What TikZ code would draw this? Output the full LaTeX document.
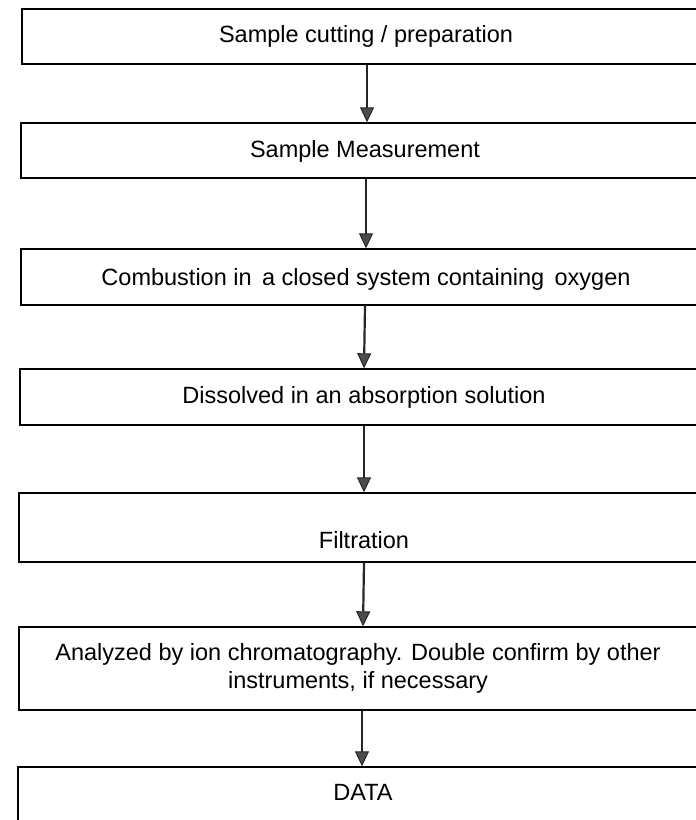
\documentclass[tikz,border=0pt]{standalone}
\usepackage{fontspec}
\setmainfont{Liberation Sans}
\usetikzlibrary{arrows.meta}
\begin{document}
\begin{tikzpicture}[x=1pt,y=-1pt,
 box/.style={draw=black,line width=1.4pt,minimum width=690pt,inner sep=0pt},
 lbl/.style={font=\fontsize{23.5}{28}\selectfont,inner sep=0pt,anchor=base,text=black},
 arr/.style={draw=black!85,line width=2.2pt,-{Triangle[length=15pt,width=14pt,fill=black!70,line width=1pt]}}]
\useasboundingbox (0,0) rectangle (696,820);
\clip (0,0) rectangle (696,820);
\node[box,minimum height=55pt] (b1) at (367,36.5) {};
\node[box,minimum height=55pt] (b2) at (366,150.5) {};
\node[box,minimum height=56pt] (b3) at (366,277) {};
\node[box,minimum height=56pt] (b4) at (365,397) {};
\node[box,minimum height=69pt] (b5) at (364,527.5) {};
\node[box,minimum height=83pt] (b6) at (364,668.5) {};
\node[box,minimum height=70pt] (b7) at (363,802) {};
\node[lbl] (t1) at (366,42.5) {Sample cutting / preparation};
\node[lbl] (t2) at (365,157) {Sample Measurement};
\node[lbl] (t3) at (366,285) {Combustion in\, a closed system containing\, oxygen};
\node[lbl] (t4) at (364,403) {Dissolved in an absorption solution};
\node[lbl] (t5) at (364,548) {Filtration};
\node[lbl] (t6a) at (358,660) {Analyzed by ion chromatography. Double confirm by other};
\node[lbl] (t6b) at (358,688) {instruments, if necessary};
\node[lbl] (t7) at (363,800) {DATA};
\draw[arr] ([xshift=0pt]b1.south) -- ([xshift=1pt]b2.north);
\draw[arr] (b2.south) -- (b3.north);
\draw[arr] ([xshift=-1pt]b3.south) -- ([xshift=-1pt]b4.north);
\draw[arr] ([xshift=-1pt]b4.south) -- (b5.north);
\draw[arr] (b5.south) -- ([xshift=-1pt]b6.north);
\draw[arr] ([xshift=-2pt]b6.south) -- ([xshift=-1pt]b7.north);
\end{tikzpicture}
\end{document}
